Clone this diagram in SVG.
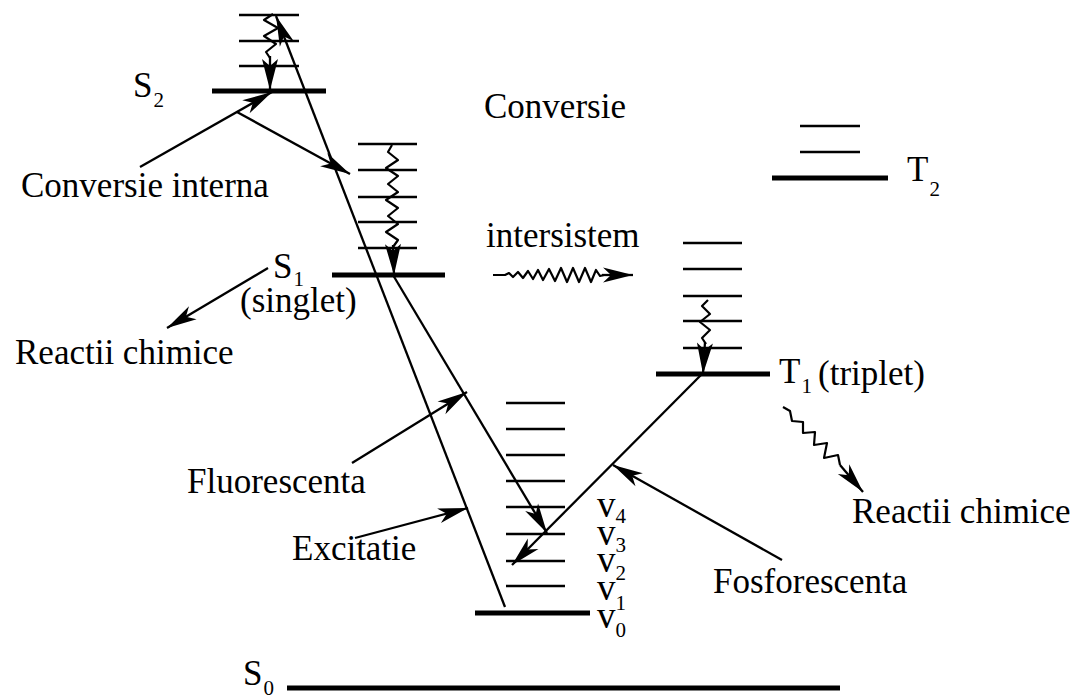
<svg xmlns="http://www.w3.org/2000/svg" width="1078" height="699" viewBox="0 0 1078 699">
<style>
.thin{stroke:#000;stroke-width:2.5;fill:none}
.thick{stroke:#000;stroke-width:5;fill:none}
.ln{stroke:#000;stroke-width:2.3;fill:none}
.wv{stroke:#000;stroke-width:2.2;fill:none;stroke-linejoin:round}
text{font-family:"Liberation Serif","Times New Roman",serif;fill:#000}
.lb{font-size:35px}
.sub{font-size:21px}
.v{font-size:37px}
</style>
<defs>
<marker id="ah" markerUnits="userSpaceOnUse" viewBox="-34 -9 36 18" markerWidth="36" markerHeight="18" refX="0" refY="0" orient="auto">
<path d="M0,0 L-30,-7.5 L-22,0 L-30,7.5 Z" fill="#000"/>
</marker>
<marker id="ahv" markerUnits="userSpaceOnUse" viewBox="-34 -9 36 18" markerWidth="36" markerHeight="18" refX="0" refY="0" orient="auto">
<path d="M0,0 L-31,-8 L-24,0 L-31,8 Z" fill="#000"/>
</marker>
</defs>
<rect width="1078" height="699" fill="#fff"/>

<g id="S2">
<line class="thin" x1="239" y1="15" x2="299" y2="15"/>
<line class="thin" x1="239" y1="41" x2="299" y2="41"/>
<line class="thin" x1="239" y1="66" x2="299" y2="66"/>
<line class="thick" x1="212" y1="91" x2="326" y2="91"/>
<text class="lb" x="133" y="97">S<tspan class="sub" dx="1" dy="10">2</tspan></text>
</g>

<g id="S1">
<line class="thin" x1="358" y1="144" x2="417" y2="144"/>
<line class="thin" x1="358" y1="170" x2="417" y2="170"/>
<line class="thin" x1="358" y1="197" x2="417" y2="197"/>
<line class="thin" x1="358" y1="222" x2="417" y2="222"/>
<line class="thin" x1="358" y1="248" x2="417" y2="248"/>
<line class="thick" x1="332" y1="275" x2="445" y2="275"/>
<text class="lb" x="273" y="278">S<tspan class="sub" dx="1" dy="8">1</tspan></text>
<text class="lb" x="240" y="312">(singlet)</text>
</g>

<g id="T2">
<line class="thin" x1="800" y1="126" x2="860" y2="126"/>
<line class="thin" x1="800" y1="152" x2="860" y2="152"/>
<line class="thick" x1="772" y1="178" x2="888" y2="178"/>
<text class="lb" x="907" y="181">T<tspan class="sub" dx="1" dy="15">2</tspan></text>
</g>

<g id="T1">
<line class="thin" x1="683" y1="243" x2="742" y2="243"/>
<line class="thin" x1="683" y1="269" x2="742" y2="269"/>
<line class="thin" x1="683" y1="296" x2="742" y2="296"/>
<line class="thin" x1="683" y1="321" x2="742" y2="321"/>
<line class="thin" x1="683" y1="348" x2="742" y2="348"/>
<line class="thick" x1="656" y1="374" x2="770" y2="374"/>
<text class="lb" x="779" y="383">T<tspan class="sub" dx="1" dy="10">1</tspan></text>
<text class="lb" x="818" y="385">(triplet)</text>
</g>

<g id="S0-vib">
<line class="thin" x1="506" y1="403" x2="565" y2="403"/>
<line class="thin" x1="506" y1="429" x2="565" y2="429"/>
<line class="thin" x1="506" y1="455" x2="565" y2="455"/>
<line class="thin" x1="506" y1="481" x2="565" y2="481"/>
<line class="thin" x1="506" y1="507" x2="565" y2="507"/>
<line class="thin" x1="506" y1="534" x2="565" y2="534"/>
<line class="thin" x1="506" y1="561" x2="565" y2="561"/>
<line class="thin" x1="506" y1="586" x2="565" y2="586"/>
<line class="thick" x1="475" y1="613" x2="590" y2="613"/>
<text class="v" x="597" y="517">v<tspan class="sub" dy="6">4</tspan></text>
<text class="v" x="597" y="545">v<tspan class="sub" dy="7">3</tspan></text>
<text class="v" x="597" y="572">v<tspan class="sub" dy="8">2</tspan></text>
<text class="v" x="597" y="600">v<tspan class="sub" dy="10">1</tspan></text>
<text class="v" x="597" y="628">v<tspan class="sub" dy="9">0</tspan></text>
</g>

<g id="S0">
<line class="thick" x1="287" y1="688" x2="840" y2="688"/>
<text class="lb" x="243" y="685">S<tspan class="sub" dx="1" dy="10">0</tspan></text>
</g>

<g id="labels">
<text class="lb" x="21" y="197">Conversie interna</text>
<text class="lb" x="484" y="118">Conversie</text>
<text class="lb" x="486" y="247">intersistem</text>
<text class="lb" x="15" y="364">Reactii chimice</text>
<text class="lb" x="187" y="493">Fluorescenta</text>
<text class="lb" x="292" y="560">Excitatie</text>
<text class="lb" x="713" y="593">Fosforescenta</text>
<text class="lb" x="852" y="523">Reactii chimice</text>
</g>

<g id="connectors">
<line class="ln" x1="505" y1="607" x2="276" y2="16" marker-end="url(#ah)"/>
<line class="ln" x1="393" y1="275" x2="547" y2="533" marker-end="url(#ah)"/>
<line class="ln" x1="702" y1="374" x2="512" y2="565" marker-end="url(#ah)"/>
<line class="ln" x1="140" y1="167" x2="272" y2="92" marker-end="url(#ah)"/>
<line class="ln" x1="237" y1="112" x2="350" y2="174" marker-end="url(#ah)"/>
<line class="ln" x1="268" y1="268" x2="167" y2="328" marker-end="url(#ah)"/>
<line class="ln" x1="352" y1="463" x2="467" y2="392" marker-end="url(#ah)"/>
<line class="ln" x1="355" y1="538" x2="468" y2="508" marker-end="url(#ah)"/>
<line class="ln" x1="782" y1="560" x2="613" y2="465" marker-end="url(#ah)"/>
<polyline class="wv" points="273,14 264,20 278,28 264,36 276,44 266,52 270,58"/>
<line class="ln" x1="270" y1="56" x2="270" y2="90" marker-end="url(#ahv)"/>
<polyline class="wv" points="392,145 388,152 398,160 386,168 398,176 388,184 398,192 386,200 398,208 388,216 398,224 386,232 398,240 393,247"/>
<line class="ln" x1="393" y1="245" x2="394" y2="275" marker-end="url(#ahv)"/>
<polyline class="wv" points="708,300 702,306 710,314 700,322 710,330 702,338 706,344"/>
<line class="ln" x1="705" y1="342" x2="703" y2="374" marker-end="url(#ahv)"/>
<polyline class="wv" points="493,275 505,275 509,273 513,277 518,272 523,278 528,271 533,279 538,270 543,280 549,269 555,281 561,268 567,282 573,268 579,282 585,268 591,282 596,270 600,276 604,275"/>
<line class="ln" x1="602" y1="275" x2="633" y2="275" marker-end="url(#ah)"/>
<polyline class="wv" points="783,407 790,411 792,421 803,422 803,433 815,432 814,445 827,443 824,458 838,455 840,465"/>
<line class="ln" x1="840" y1="465" x2="863" y2="492" marker-end="url(#ah)"/>
</g>
</svg>
